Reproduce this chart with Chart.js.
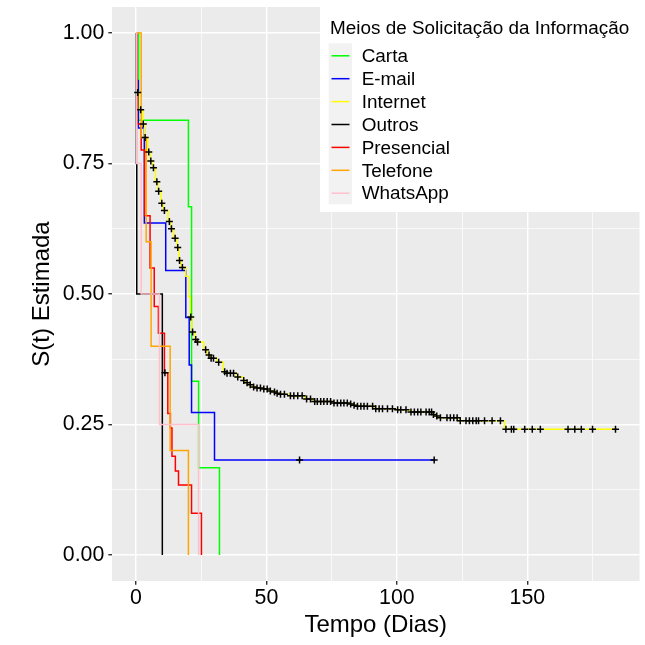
<!DOCTYPE html>
<html><head><meta charset="utf-8">
<script src="https://cdn.jsdelivr.net/npm/chart.js@4.4.1/dist/chart.umd.min.js"></script>
<style>html,body{margin:0;padding:0;background:#fff}canvas{display:block}</style>
</head><body>
<canvas id="c" width="645" height="645"></canvas>
<script>
// ---- data ----
const seriesNames = ['Carta','E-mail','Internet','Outros','Presencial','Telefone','WhatsApp'];
const seriesColors = ['#00FF00','#0000FF','#FFFF00','#000000','#FF0000','#FFA500','#FFC0CB'];
const legendTitle = 'Meios de Solicitação da Informação';
const xTitle = 'Tempo (Dias)';
const yTitle = 'S(t) Estimada';
const xTickValues = [0,25,50,75,100,125,150,175];
const xTickLabels = ['0','','50','','100','','150',''];
const yTickValues = [0,0.125,0.25,0.375,0.5,0.625,0.75,0.875,1];
const yTickLabels = ['0.00','','0.25','','0.50','','0.75','','1.00'];

const cartaTimes = [0, 1.0, 20.1, 21.3, 24.0, 32.0];
const cartaSurv  = [1, 0.833, 0.667, 0.333, 0.167, 0];
const cartaCensor = [];

const emailTimes = [0, 0.3, 0.9, 3.2, 11.4, 19.1, 20.4, 21.3, 30.1, 114.3];
const emailSurv  = [1, 0.909, 0.818, 0.636, 0.545, 0.455, 0.364, 0.273, 0.182, 0.182];
const emailCensor = [62.7, 114.3];

const internetTimes = [0, 0.5, 1.3, 2.6, 3.2, 4.5, 5.5, 6.3, 7.5, 8.4, 9.6, 10.5, 12.3, 13.3, 14.5, 15.7, 16.4, 17.4, 19.1, 20.1, 20.8, 21.4, 22.5, 23.3, 26.0, 27.5, 28.5, 31.0, 33.5, 34.5, 38.5, 41.0, 42.0, 43.5, 44.5, 46.0, 48.5, 51.0, 52.5, 53.7, 55.0, 58.5, 65.0, 68.0, 75.5, 82.0, 83.3, 84.5, 91.5, 100.0, 105.0, 113.7, 115.0, 116.3, 124.0, 141.2, 183.8];
const internetSurv  = [1, 0.886, 0.853, 0.826, 0.800, 0.772, 0.755, 0.742, 0.715, 0.697, 0.674, 0.660, 0.639, 0.625, 0.607, 0.589, 0.564, 0.551, 0.534, 0.495, 0.456, 0.427, 0.413, 0.408, 0.393, 0.383, 0.377, 0.369, 0.351, 0.348, 0.341, 0.334, 0.330, 0.326, 0.322, 0.320, 0.318, 0.314, 0.312, 0.310, 0.308, 0.305, 0.299, 0.294, 0.291, 0.289, 0.287, 0.285, 0.280, 0.278, 0.274, 0.269, 0.266, 0.263, 0.257, 0.241, 0.241];
const internetCensor = [0.65, 1.8, 2.8, 3.5, 4.9, 5.7, 6.7, 8.0, 8.7, 9.9, 10.9, 12.8, 13.6, 15.0, 16.0, 16.7, 17.8, 21.0, 21.7, 22.9, 23.6, 26.7, 28.0, 28.8, 29.7, 31.7, 34.0, 34.9, 36.2, 37.4, 39.0, 41.3, 42.6, 43.8, 45.1, 46.4, 47.7, 49.0, 50.3, 51.5, 53.1, 54.1, 55.4, 56.9, 59.2, 60.5, 62.0, 63.7, 65.4, 66.9, 68.5, 69.5, 70.8, 72.0, 73.3, 74.6, 75.9, 77.2, 78.5, 79.7, 81.0, 82.3, 83.6, 84.9, 86.2, 87.4, 88.7, 90.7, 91.9, 93.2, 94.5, 96.4, 98.3, 100.3, 101.5, 103.5, 105.4, 106.7, 108.0, 109.2, 111.2, 112.4, 113.3, 114.0, 115.3, 116.7, 119.2, 120.5, 121.8, 123.1, 124.3, 126.5, 127.8, 129.1, 130.4, 131.3, 133.6, 136.5, 139.7, 141.8, 143.9, 144.8, 149.0, 151.9, 155.0, 165.6, 168.2, 170.7, 175.0, 183.8];

const outrosTimes = [0, 0.15, 0.3, 10.1];
const outrosSurv  = [1, 0.75, 0.5, 0];
const outrosCensor = [];

const presencialTimes = [0, 0.5, 2.0, 3.3, 5.4, 7.0, 8.6, 10.9, 12.2, 13.2, 13.8, 15.1, 16.3, 21.3, 25.1];
const presencialSurv  = [1, 0.826, 0.776, 0.650, 0.550, 0.476, 0.425, 0.349, 0.271, 0.243, 0.189, 0.161, 0.134, 0.080, 0];
const presencialCensor = [11.1];

const telefoneTimes = [0, 2.0, 3.9, 5.8, 13.1, 20.1];
const telefoneSurv  = [1, 0.8, 0.6, 0.4, 0.2, 0];
const telefoneCensor = [];

const whatsappTimes = [0, 0.3, 2.0, 9.0, 24.0];
const whatsappSurv  = [1, 0.75, 0.5, 0.25, 0];
const whatsappCensor = [];

const allTimes = [cartaTimes, emailTimes, internetTimes, outrosTimes, presencialTimes, telefoneTimes, whatsappTimes];
const allSurv = [cartaSurv, emailSurv, internetSurv, outrosSurv, presencialSurv, telefoneSurv, whatsappSurv];
const allCensor = [cartaCensor, emailCensor, internetCensor, outrosCensor, presencialCensor, telefoneCensor, whatsappCensor];

// ---- helpers ----
function survAt(times, surv, t) {
  let s = surv[0];
  for (let i = 0; i < times.length; i++) { if (times[i] <= t) s = surv[i]; }
  return s;
}
const FONT = '"Liberation Sans", Arial, sans-serif';

const datasets = [];
seriesNames.forEach((name, i) => {
  datasets.push({
    type: 'line', label: name,
    data: allTimes[i].map((t, k) => ({x: t, y: allSurv[i][k]})),
    borderColor: seriesColors[i], backgroundColor: seriesColors[i],
    borderWidth: 1.5, stepped: true, pointRadius: 0, fill: false,
    order: 10 - i
  });
});
seriesNames.forEach((name, i) => {
  if (!allCensor[i].length) return;
  datasets.push({
    type: 'scatter', label: name + ' censor',
    data: allCensor[i].map(t => ({x: t, y: survAt(allTimes[i], allSurv[i], t)})),
    pointStyle: 'cross', pointRadius: 3.5, borderColor: '#000', borderWidth: 1.5,
    showLine: false, order: 0
  });
});

const panelBg = {
  id: 'panelBg',
  beforeDraw(chart) {
    const a = chart.chartArea, ctx = chart.ctx;
    ctx.save(); ctx.fillStyle = '#EBEBEB';
    ctx.fillRect(a.left, a.top, a.right - a.left, a.bottom - a.top);
    ctx.restore();
  }
};
const legendPlugin = {
  id: 'kmLegend',
  afterDraw(chart) {
    const ctx = chart.ctx;
    ctx.save();
    ctx.fillStyle = '#FFFFFF';
    ctx.fillRect(320, 6, 325, 206);
    ctx.fillStyle = '#000';
    ctx.font = '18.9px ' + FONT;
    ctx.textBaseline = 'alphabetic';
    ctx.textAlign = 'left';
    ctx.fillText(legendTitle, 330, 34);
    ctx.fillStyle = '#F2F2F2';
    ctx.fillRect(328.7, 43.3, 23.3, 161);
    seriesNames.forEach((name, i) => {
      const cy = 55.8 + 22.9 * i;
      ctx.strokeStyle = seriesColors[i]; ctx.lineWidth = 1.5;
      ctx.beginPath(); ctx.moveTo(331.5, cy); ctx.lineTo(349.5, cy); ctx.stroke();
      ctx.fillStyle = '#000'; ctx.textBaseline = 'middle';
      ctx.fillText(name, 361.7, cy + 1);
    });
    ctx.restore();
  }
};

const isMajorX = v => Math.abs(v % 50) < 1e-6;
const isMajorY = v => Math.abs((v * 4) - Math.round(v * 4)) < 1e-6;

new Chart(document.getElementById('c'), {
  data: {datasets},
  plugins: [panelBg, legendPlugin],
  options: {
    responsive: false, animation: false, devicePixelRatio: 1,
    layout: {padding: {left: 0, top: 7, right: 5.5, bottom: 0}},
    plugins: {legend: {display: false}, tooltip: {enabled: false}},
    scales: {
      x: {
        type: 'linear', min: -9.19, max: 193,
        afterFit: s => { s.height = 64; s.paddingLeft = 0; s.paddingRight = 0; },
        afterBuildTicks: s => { s.ticks = xTickValues.map(v => ({value: v})); },
        ticks: {
          autoSkip: false, maxRotation: 0, padding: 1, color: '#000',
          font: {family: FONT, size: 21.33},
          callback: (v) => { const k = xTickValues.indexOf(v); return k >= 0 ? xTickLabels[k] : ''; }
        },
        grid: {
          color: '#FFFFFF',
          lineWidth: c => isMajorX(c.tick.value) ? 1.42 : 0.71,
          tickColor: c => isMajorX(c.tick.value) ? '#333333' : 'rgba(0,0,0,0)',
          tickLength: 3.67, tickWidth: 1.42, drawTicks: true
        },
        border: {display: false},
        title: {display: true, text: xTitle, color: '#000', font: {family: FONT, size: 24}, padding: {top: 0, bottom: 5.6}}
      },
      y: {
        type: 'linear', min: -0.05, max: 1.05,
        afterFit: s => { s.width = 112; s.paddingTop = 0; s.paddingBottom = 0; },
        afterBuildTicks: s => { s.ticks = yTickValues.map(v => ({value: v})); },
        ticks: {
          autoSkip: false, padding: 4, color: '#000',
          font: {family: FONT, size: 21.33},
          callback: (v) => { const k = yTickValues.findIndex(t => Math.abs(t - v) < 1e-9); return k >= 0 ? yTickLabels[k] : ''; }
        },
        grid: {
          color: '#FFFFFF',
          lineWidth: c => isMajorY(c.tick.value) ? 1.42 : 0.71,
          tickColor: c => isMajorY(c.tick.value) ? '#333333' : 'rgba(0,0,0,0)',
          tickLength: 3.67, tickWidth: 1.42, drawTicks: true
        },
        border: {display: false},
        title: {display: true, text: yTitle, color: '#000', font: {family: FONT, size: 24}, padding: {top: 27.6, bottom: 0}}
      }
    }
  }
});
</script>
</body></html>
